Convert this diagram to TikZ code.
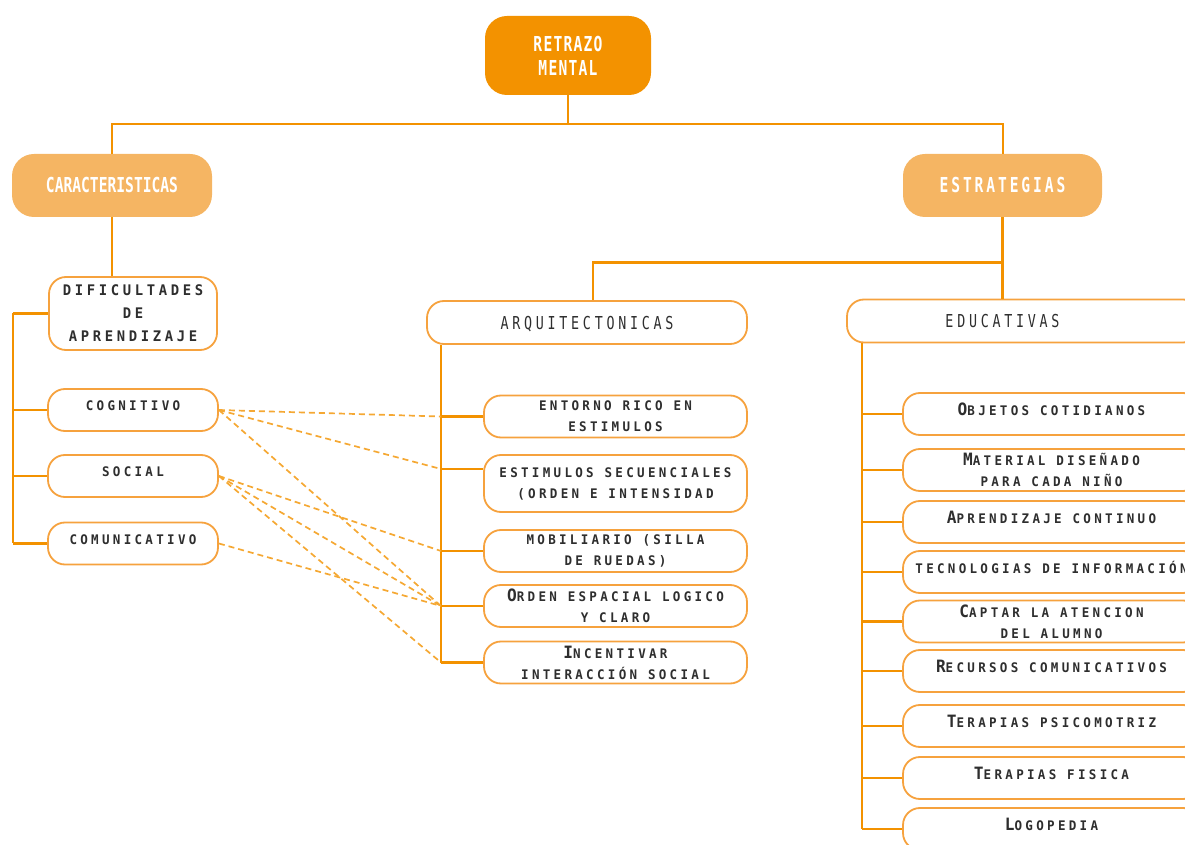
\documentclass[tikz,border=0pt]{standalone}
\usepackage{fontspec}
\setmainfont{DejaVu Sans Mono}
\newfontfamily\headfont[FakeStretch=0.71]{DejaVu Sans Mono}
\newfontfamily\secfont[FakeStretch=0.75,LetterSpace=21]{DejaVu Sans Mono}
\newfontfamily\bodyfont[FakeStretch=0.95,LetterSpace=25]{DejaVu Sans Mono}
\usetikzlibrary{calc,positioning}

\definecolor{deeporange}{HTML}{F39200}
\definecolor{softorange}{HTML}{F5B563}
\definecolor{rimorange}{HTML}{F6A23E}
\definecolor{inkgray}{HTML}{2E2E2E}

% first letter bigger, rest as small capitals
\newcommand{\scword}[2]{{\fontsize{8.5pt}{10.5pt}\selectfont #1}#2}

\begin{document}
\begin{tikzpicture}
	[x=0.5pt,y=-0.5pt,
	link/.style={draw=deeporange,line width=1.2pt},
	cross/.style={draw=deeporange!80,line width=0.85pt,dash pattern=on 3pt off 2pt},
	topbox/.style={rounded corners=11pt,fill=deeporange,text=white,align=center,
		inner sep=0pt,minimum width=83pt,minimum height=39.5pt,
		font=\headfont\bfseries\fontsize{10.3pt}{12pt}\selectfont\addfontfeature{LetterSpace=6}},
	headbox/.style={rounded corners=11pt,fill=softorange,text=white,align=center,
		inner sep=0pt,minimum height=31.5pt,
		font=\headfont\bfseries\fontsize{10.3pt}{12pt}\selectfont},
	itembox/.style={rounded corners=8.5pt,draw=rimorange,line width=0.9pt,fill=white,
		text=inkgray,align=center,inner sep=0pt,
		font=\bodyfont\bfseries\fontsize{6.6pt}{10.5pt}\selectfont},
	leftbox/.style={itembox,minimum width=85pt,minimum height=21pt,text depth=4pt},
	midbox/.style={itembox,minimum width=131.5pt,minimum height=21pt},
	rightbox/.style={itembox,minimum width=148.5pt,minimum height=21pt},
	oneline/.style={text depth=5pt},
	groupbox/.style={itembox,minimum height=21.5pt,text depth=0pt,
		font=\secfont\fontsize{8.9pt}{10pt}\selectfont}]

	\useasboundingbox (0,0) rectangle (1185,845);
	\clip (0,0) rectangle (1185,845);

	% main boxes
	\node[topbox] (rm) at (568,55.5) {RETRAZO\\MENTAL};
	\node[headbox,minimum width=100pt] (car) at (112,185.5) {CARACTERISTICAS};
	\node[headbox,minimum width=99.5pt] (est) at (1002.5,185.5)
		{\addfontfeature{LetterSpace=14}ESTRATEGIAS};

	% caracteristicas
	\node[itembox,minimum width=84pt,minimum height=36.5pt,
		font=\bodyfont\bfseries\fontsize{7.3pt}{11.5pt}\selectfont] (dif) at (133,313.5)
		{DIFICULTADES\\DE\\APRENDIZAJE};
	\node[leftbox] (cog) at (133,410) {COGNITIVO};
	\node[leftbox] (soc) at (133,476) {SOCIAL};
	\node[leftbox] (com) at (133,543.5) {COMUNICATIVO};

	% estrategias
	\node[groupbox,minimum width=160pt] (arq) at (587,322.5) {ARQUITECTONICAS};
	\node[groupbox,minimum width=176.5pt] (edu) at (1023.5,321) {EDUCATIVAS\hspace*{21pt}};

	\node[midbox] (ent) at (615.5,416.5) {ENTORNO RICO EN\\ESTIMULOS};
	\node[midbox,minimum height=28.5pt] (sec) at (615.5,483.5)
		{ESTIMULOS SECUENCIALES\\(ORDEN E INTENSIDAD};
	\node[midbox] (mob) at (615.5,551) {MOBILIARIO (SILLA\\DE RUEDAS)};
	\node[midbox] (ord) at (615.5,606)
		{\scword{O}{RDEN ESPACIAL LOGICO}\\Y CLARO};
	\node[midbox] (inc) at (615.5,662.5)
		{\scword{I}{NCENTIVAR}\\INTERACCIÓN SOCIAL};

	\node[rightbox,oneline] (obj) at (1051.5,414) {\scword{O}{BJETOS COTIDIANOS}};
	\node[rightbox] (mat) at (1051.5,470) {\scword{M}{ATERIAL DISEÑADO}\\PARA CADA NIÑO};
	\node[rightbox,oneline] (apr) at (1051.5,522) {\scword{A}{PRENDIZAJE CONTINUO}};
	\node[rightbox,oneline] (tec) at (1051.5,572) {TECNOLOGIAS DE INFORMACIÓN};
	\node[rightbox] (cap) at (1051.5,621.5) {\scword{C}{APTAR LA ATENCION}\\DEL ALUMNO};
	\node[rightbox,oneline] (rec) at (1051.5,671) {\scword{R}{ECURSOS COMUNICATIVOS}};
	\node[rightbox,oneline] (ter) at (1051.5,726) {\scword{T}{ERAPIAS PSICOMOTRIZ}};
	\node[rightbox,oneline] (fis) at (1051.5,778) {\scword{T}{ERAPIAS FISICA}};
	\node[rightbox,oneline] (log) at (1051.5,829) {\scword{L}{OGOPEDIA}};

	% spines
	\coordinate (lspine) at (13,0);
	\coordinate (mspine) at (441,0);
	\coordinate (rspine) at (862,0);
	\coordinate (secin) at ($(sec.west)+(0,-14.5)$);

	% tree lines
	\draw[link] (rm.south) -- ++(0,29) coordinate (rmhub);
	\draw[link,line width=1pt] (car.north) |- (rmhub) -| (est.north);
	\draw[link] (car.south) -- (dif.north -| car.south);
	\draw[link] (est.south) -- ++(0,45) coordinate (esthub);
	\draw[link] (esthub) -| (arq.north -| 593,0);
	\draw[link] (esthub) -- (edu.north -| esthub);

	\draw[link] (dif.west -| lspine) -- (com.west -| lspine);
	\foreach \n in {dif.west,cog.west,soc.west,com.west}
		\draw[link] (\n) -- (\n -| lspine);

	\draw[link] (arq.south -| mspine) -- (inc.west -| mspine);
	\foreach \n in {ent.west,secin,mob.west,ord.west,inc.west}
		\draw[link] (\n) -- (\n -| mspine);

	\draw[link] (edu.south -| rspine) -- (log.west -| rspine);
	\foreach \n in {obj,mat,apr,tec,cap,rec,ter,fis,log}
		\draw[link] (\n.west) -- (\n.west -| rspine);

	% dashed cross links
	\draw[cross] (cog.east) -- (secin -| mspine);
	\foreach \from/\to in {cog/ent,cog/ord,soc/mob,soc/ord,soc/inc,com/ord}
		\draw[cross] (\from.east) -- (\to.west -| mspine);
\end{tikzpicture}
\end{document}
